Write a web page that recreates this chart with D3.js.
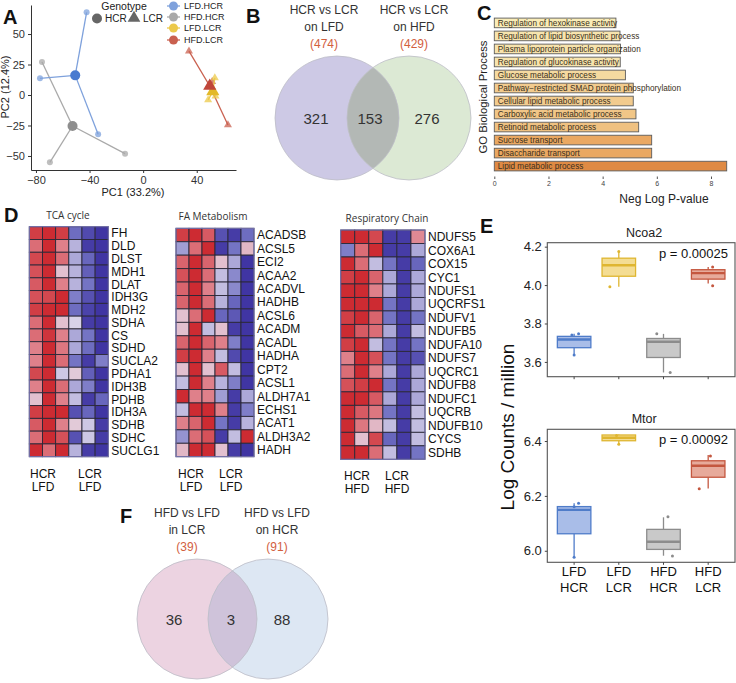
<!DOCTYPE html>
<html><head><meta charset="utf-8">
<script src="https://cdn.jsdelivr.net/npm/d3@7"></script>
<style>body{margin:0;background:#fff}svg{display:block;font-family:"Liberation Sans",Arial,sans-serif}</style>
</head><body><svg id="c" width="736" height="683"></svg>
<script>
// ---------------- DATA ----------------
// Panel A – PCA
const pcaGroups = ["LFD.HCR","HFD.HCR","LFD.LCR","HFD.LCR"];
const pcaColors = ["#7ea1dc","#a9a9a9","#ecc94a","#c9604f"];
const pcaCentroidColors = ["#4a7bd0","#8e8e8e","#e3b928","#c0463a"];
const pcaShapes = ["circle","circle","triangle","triangle"];
const pcaLfdHcr = [[-42.2,67.8],[-77,13.7],[-33.6,-32.2]];
const pcaHfdHcr = [[-75.5,27],[-69.6,-55.2],[-13.5,-48.1]];
const pcaLfdLcr = [[53.5,14],[48.5,-4],[54,-1]];
const pcaHfdLcr = [[34.2,36],[63.3,-24.6],[51.5,11]];
const pcaCentroids = [[-50.7,16.1],[-52.7,-25.4],[52,3],[49.7,7.4]];
const pcaXTicks = [-80,-40,0,40];
const pcaYTicks = [-50,-25,0,25,50];

// Panel B – Venn
const vennBTitles = [["HCR vs LCR","on LFD"],["HCR vs LCR","on HFD"]];
const vennBTotals = [474,429];
const vennBCounts = [321,153,276];

// Panel C – GO
const goTerms = ["Regulation of hexokinase activity","Regulation of lipid biosynthetic process","Plasma lipoprotein particle organization","Regulation of glucokinase activity","Glucose metabolic process","Pathway\u2212restricted SMAD protein phosphorylation","Cellular lipid metabolic process","Carboxylic acid metabolic process","Retinoid metabolic process","Sucrose transport","Disaccharide transport","Lipid metabolic process"];
const goValues = [4.49,4.64,4.66,4.65,4.84,5.13,5.13,5.23,5.33,5.81,5.81,8.58];
const goTicks = [0,2,4,6,8];

// Panel D – heatmaps (scaled expression, -1 blue .. 1 red)
const tcaGenes = ["FH","DLD","DLST","MDH1","DLAT","IDH3G","MDH2","SDHA","CS","SDHD","SUCLA2","PDHA1","IDH3B","PDHB","IDH3A","SDHB","SDHC","SUCLG1"];
const tcaValues = [
[0.85,0.95,0.85,-0.55,-0.8,-0.95],[0.6,0.95,0.5,-0.2,-0.9,-0.95],[0.8,0.95,0.6,-0.25,-0.6,-0.95],
[0.75,0.95,0.15,-0.2,-0.65,-0.95],[0.7,0.95,0.5,-0.2,-0.5,-0.95],[0.75,0.8,0.95,-0.45,-0.75,-0.95],
[0.85,0.95,0.95,-0.55,-0.85,-0.95],[0.6,0.95,0.15,-0.05,-0.9,-0.95],[0.6,0.9,0.5,-0.25,-0.5,-0.95],
[0.5,0.95,0.55,-0.25,-0.55,-0.95],[0.5,0.95,0.6,-0.5,-0.9,-0.45],[0.8,0.95,-0.1,0.1,-0.65,-0.95],
[0.5,0.95,0.6,-0.25,-0.45,-0.95],[0.15,0.95,0.5,-0.15,-0.9,-0.6],[0.85,0.95,0.95,-0.75,-0.6,-0.95],
[0.7,0.95,0.5,0.1,-0.1,-0.9],[0.6,0.95,0.75,-0.75,-0.1,-0.9],[0.95,0.6,0.95,-0.2,-0.9,-0.95]];
const faGenes = ["ACADSB","ACSL5","ECI2","ACAA2","ACADVL","HADHB","ACSL6","ACADM","ACADL","HADHA","CPT2","ACSL1","ALDH7A1","ECHS1","ACAT1","ALDH3A2","HADH"];
const faValues = [
[0.85,0.95,0.7,-0.75,-0.9,-0.55],[-0.3,0.6,0.95,-0.9,-0.5,0.2],[0.65,0.95,0.65,0.15,-0.25,-0.95],
[0.75,0.95,0.6,-0.15,-0.4,-0.95],[0.65,0.95,0.5,-0.15,-0.4,-0.95],[0.65,0.95,0.6,-0.2,-0.6,-0.95],
[0.15,0.6,0.95,-0.6,-0.7,-0.95],[0.15,0.95,-0.15,0.15,-0.9,-0.95],[0.65,0.95,0.65,0.5,-0.45,-0.95],
[0.85,0.95,0.5,-0.15,-0.8,-0.95],[0.15,0.95,0.15,0.7,-0.15,-0.95],[-0.15,0.95,0.5,-0.2,-0.45,-0.95],
[0.95,0.5,0.5,-0.3,-0.9,-0.25],[-0.15,0.95,0.95,0.5,-0.9,-0.45],[0.5,0.65,0.95,-0.5,-0.9,-0.2],
[-0.35,0.6,0.75,-0.9,-0.15,0.95],[0.2,0.95,0.95,0.15,-0.9,-0.95]];
const rcGenes = ["NDUFS5","COX6A1","COX15","CYC1","NDUFS1","UQCRFS1","NDUFV1","NDUFB5","NDUFA10","NDUFS7","UQCRC1","NDUFB8","NDUFC1","UQCRB","NDUFB10","CYCS","SDHB"];
const rcValues = [
[0.95,0.95,0.8,-0.9,-0.9,0.45],[-0.45,0.6,0.95,-0.9,-0.9,-0.25],[0.95,0.6,-0.15,-0.5,-0.9,-0.6],
[0.85,0.95,0.65,-0.25,-0.9,-0.25],[0.95,0.95,0.5,-0.25,-0.9,-0.25],[0.95,0.95,0.95,-0.5,-0.9,-0.25],
[0.85,0.95,0.65,-0.5,-0.9,-0.5],[0.95,0.7,0.6,-0.25,-0.9,-0.15],[0.85,0.95,-0.15,-0.5,-0.9,-0.5],
[0.5,0.95,0.75,-0.5,-0.9,-0.75],[0.6,0.95,0.5,-0.25,-0.9,-0.25],[0.75,0.85,0.95,-0.5,-0.9,-0.25],
[0.95,0.95,0.7,-0.25,-0.9,-0.25],[0.95,0.7,0.55,-0.5,-0.9,-0.15],[0.95,0.55,0.2,-0.15,-0.9,-0.15],
[0.95,0.15,0.8,-0.6,-0.9,-0.15],[0.95,0.95,0.6,-0.15,-0.9,-0.5]];

// Panel E – boxplots  [lowWhisker, q1, median, q3, highWhisker]
const boxLine1 = ["LFD","LFD","HFD","HFD"];
const boxLine2 = ["HCR","LCR","HCR","LCR"];
const boxStroke = ["#4f7cc9","#dfb631","#8c8c8c","#c4573f"];
const boxFill = ["#a9bde8","#f4dd93","#c9c9c9","#e7aa9b"];
const ncoa2Stats = [[3.636,3.674,3.717,3.733,3.746],[3.991,4.046,4.103,4.140,4.175],[3.545,3.623,3.705,3.722,3.746],[4.008,4.031,4.062,4.080,4.094]];
const ncoa2Points = [[3.746,3.636,3.74],[4.175,3.991],[3.746,3.545],[4.094,3.996]];
const ncoa2Jitter = [[0.1,0,-0.05],[0,-0.2],[-0.15,0.15],[0.1,0.1]];
const mtorStats = [[5.976,6.062,6.149,6.161,6.173],[6.388,6.401,6.412,6.422,6.424],[5.982,6.005,6.033,6.078,6.122],[6.227,6.268,6.310,6.328,6.349]];
const mtorPoints = [[6.173,6.16,5.976],[6.42,6.388],[6.124,5.981],[6.345,6.226]];
const mtorJitter = [[0.1,0,0],[-0.05,0],[0.1,0.2],[0.05,-0.2]];
const ncoa2Ticks = [3.6,3.8,4.0,4.2];
const mtorTicks = [6.0,6.2,6.4];

// Panel F – Venn
const vennFTitles = [["HFD vs LFD","in LCR"],["HFD vs LFD","on HCR"]];
const vennFTotals = [39,91];
const vennFCounts = [36,3,88];

// ---------------- DRAW ----------------
const svg = d3.select("#c");
svg.append("rect").attr("width",736).attr("height",683).attr("fill","#fff");
const txt = "#222";
function letter(s,x,y){svg.append("text").attr("x",x).attr("y",y).attr("font-size",20).attr("font-weight","bold").attr("fill","#111").text(s);}

// ===== Panel A =====
letter("A",3,24);
const xA = d3.scaleLinear().domain([-83.7,69.3]).range([31,236]);
const yA = d3.scaleLinear().domain([-61.5,73.8]).range([170,5]);
const gA = svg.append("g");
const axB = gA.append("g").attr("transform","translate(0,170)").call(d3.axisBottom(xA).tickValues(pcaXTicks).tickSize(3).tickSizeOuter(0).tickFormat(d=>d<0?"\u2212"+(-d):d));
const axL = gA.append("g").attr("transform","translate(31,0)").call(d3.axisLeft(yA).tickValues(pcaYTicks).tickSize(3).tickSizeOuter(0).tickFormat(d=>d<0?"\u2212"+(-d):d));
[axB,axL].forEach(a=>{a.select(".domain").attr("stroke","#333");a.selectAll("line").attr("stroke","#333");a.selectAll("text").attr("font-size",11).attr("fill","#333").attr("font-family","Liberation Sans, Arial");});
gA.append("text").attr("x",133).attr("y",196).attr("text-anchor","middle").attr("font-size",11).attr("fill",txt).text("PC1 (33.2%)");
gA.append("text").attr("transform","translate(9,87) rotate(-90)").attr("text-anchor","middle").attr("font-size",11).attr("fill",txt).text("PC2 (12.4%)");
const pcaSets = [pcaLfdHcr,pcaHfdHcr,pcaLfdLcr,pcaHfdLcr];
const triPath = (s)=>d3.symbol().type(d3.symbolTriangle).size(s)();
const drawOrder = [1,0,3,2];
drawOrder.forEach(i=>{
  const c = pcaCentroids[i];
  pcaSets[i].forEach(p=>{
    gA.append("line").attr("x1",xA(c[0])).attr("y1",yA(c[1])).attr("x2",xA(p[0])).attr("y2",yA(p[1])).attr("stroke",pcaColors[i]).attr("stroke-width",1.3);
  });
  pcaSets[i].forEach(p=>{
    if(pcaShapes[i]==="circle") gA.append("circle").attr("cx",xA(p[0])).attr("cy",yA(p[1])).attr("r",3).attr("fill",pcaColors[i]).attr("opacity",0.75);
    else gA.append("path").attr("d",triPath(28)).attr("transform",`translate(${xA(p[0])},${yA(p[1])})`).attr("fill",pcaColors[i]).attr("opacity",0.75);
  });
});
[0,1,2,3].forEach(i=>{
  const c = pcaCentroids[i];
  if(pcaShapes[i]==="circle") gA.append("circle").attr("cx",xA(c[0])).attr("cy",yA(c[1])).attr("r",5).attr("fill",pcaCentroidColors[i]);
  else gA.append("path").attr("d",triPath(75)).attr("transform",`translate(${xA(c[0])},${yA(c[1])})`).attr("fill",pcaCentroidColors[i]);
});
// legends
gA.append("text").attr("x",124).attr("y",10).attr("text-anchor","middle").attr("font-size",10.5).attr("fill",txt).text("Genotype");
gA.append("circle").attr("cx",97).attr("cy",18.5).attr("r",5).attr("fill","#666");
gA.append("text").attr("x",105).attr("y",22).attr("font-size",10).attr("fill",txt).text("HCR");
gA.append("path").attr("d",triPath(70)).attr("transform","translate(134,18)").attr("fill","#666");
gA.append("text").attr("x",143).attr("y",22).attr("font-size",10).attr("fill",txt).text("LCR");
const legY = [6,17,28,40];
const legCol = ["#7ea1dc","#a9a9a9","#ecc94a","#c9604f"];
pcaGroups.forEach((g,i)=>{
  gA.append("line").attr("x1",167).attr("x2",180).attr("y1",legY[i]).attr("y2",legY[i]).attr("stroke",legCol[i]).attr("stroke-width",1.3);
  gA.append("circle").attr("cx",173.5).attr("cy",legY[i]).attr("r",4.5).attr("fill",legCol[i]);
  gA.append("text").attr("x",184).attr("y",legY[i]+3.3).attr("font-size",9).attr("fill",txt).text(g);
});

// ===== Venn helper =====
function venn(cx1,cx2,cy,r,cols,titles,totals,counts,titleX,numX,id){
  const g = svg.append("g");
  g.append("circle").attr("cx",cx1).attr("cy",cy).attr("r",r).attr("fill",cols[0]);
  g.append("circle").attr("cx",cx2).attr("cy",cy).attr("r",r).attr("fill",cols[1]);
  g.append("clipPath").attr("id",id).append("circle").attr("cx",cx1).attr("cy",cy).attr("r",r);
  g.append("circle").attr("cx",cx2).attr("cy",cy).attr("r",r).attr("fill",cols[2]).attr("clip-path",`url(#${id})`);
  [cx1,cx2].forEach(cx=>g.append("circle").attr("cx",cx).attr("cy",cy).attr("r",r).attr("fill","none").attr("stroke","#bdbdc6").attr("stroke-width",0.8));
  titles.forEach((t,i)=>{
    g.append("text").attr("x",titleX[i]).attr("y",cy-r-42).attr("text-anchor","middle").attr("font-size",12).attr("fill","#333").text(t[0]);
    g.append("text").attr("x",titleX[i]).attr("y",cy-r-25).attr("text-anchor","middle").attr("font-size",12).attr("fill","#333").text(t[1]);
    g.append("text").attr("x",titleX[i]).attr("y",cy-r-8).attr("text-anchor","middle").attr("font-size",12).attr("fill","#d2603e").text("("+totals[i]+")");
  });
  counts.forEach((c,i)=>g.append("text").attr("x",numX[i]).attr("y",cy+5.5).attr("text-anchor","middle").attr("font-size",15).attr("fill","#333").text(c));
}
letter("B",246,23);
venn(337,409,118,62,["#cdc9e5","#dce9d4","#b3b8b5"],vennBTitles,vennBTotals,vennBCounts,[324,414],[316,370,427],"clipB");

// ===== Panel C =====
letter("C",477,20);
const xC = d3.scaleLinear().domain([0,8]).range([494.3,711]);
const yC = d3.scaleBand().domain(goTerms).range([16.4,172.6]).paddingInner(0.26).paddingOuter(0.13);
const colC = d3.scaleLinear().domain([4.4,5.8,8.6]).range(["#faf1bd","#eaa862","#df8a44"]);
const gC = svg.append("g");
goTerms.forEach((t,i)=>{
  gC.append("rect").attr("x",xC(0)).attr("y",yC(t)).attr("width",xC(goValues[i])-xC(0)).attr("height",yC.bandwidth()).attr("fill",colC(goValues[i])).attr("stroke","#5c5c5c").attr("stroke-width",0.9);
  gC.append("text").attr("x",xC(0)+3.5).attr("y",yC(t)+yC.bandwidth()/2+2.9).attr("font-size",8.2).attr("fill","#3a3020").text(t);
});
const axC = gC.append("g").attr("transform","translate(0,176.5)").call(d3.axisBottom(xC).tickValues(goTicks).tickSize(2.5).tickSizeOuter(0));
axC.select(".domain").remove();
axC.selectAll("line").attr("stroke","#555");
axC.selectAll("text").attr("font-size",7).attr("fill","#444").attr("dy","0.5em");
gC.append("text").attr("x",664).attr("y",203).attr("text-anchor","middle").attr("font-size",12).attr("fill",txt).text("Neg Log P-value");
gC.append("text").attr("transform","translate(487,97) rotate(-90)").attr("text-anchor","middle").attr("font-size",11.3).attr("fill",txt).text("GO Biological Process");

// ===== Panel D =====
letter("D",4,222);
const heatCol = d3.scaleLinear().domain([-1,-0.5,0,0.5,1]).range(["#3a2e9f","#7474c4","#e3dcec","#df808a","#cb2228"]);
function heat(x0,x1,y0,y1,genes,vals,title,titleX,lab1,lab2,labX){
  const g = svg.append("g");
  const xs = d3.scaleBand().domain(d3.range(6)).range([x0,x1]);
  const ys = d3.scaleBand().domain(genes).range([y0,y1]);
  genes.forEach((gn,r)=>{
    vals[r].forEach((v,c)=>{
      g.append("rect").attr("x",xs(c)).attr("y",ys(gn)).attr("width",xs.bandwidth()).attr("height",ys.bandwidth()).attr("fill",heatCol(v)).attr("stroke","#2b2838").attr("stroke-width",0.9);
    });
    g.append("text").attr("x",x1+3).attr("y",ys(gn)+ys.bandwidth()/2+4.3).attr("font-size",12).attr("fill","#111").text(gn);
  });
  g.append("rect").attr("x",x0).attr("y",y0).attr("width",x1-x0).attr("height",y1-y0).attr("fill","none").attr("stroke","#7b78b8").attr("stroke-width",1);
  g.append("text").attr("x",titleX).attr("y",y0-8).attr("text-anchor","middle").attr("font-size",10).attr("fill","#333").attr("font-family","Open Sans, sans-serif").text(title);
  [0,1].forEach(k=>{
    g.append("text").attr("x",labX[k]).attr("y",y1+21).attr("text-anchor","middle").attr("font-size",12).attr("fill","#111").text(lab1[k]);
    g.append("text").attr("x",labX[k]).attr("y",y1+34).attr("text-anchor","middle").attr("font-size",12).attr("fill","#111").text(lab2[k]);
  });
}
heat(29.3,108.3,226.7,456.7,tcaGenes,tcaValues,"TCA cycle",68,["HCR","LCR"],["LFD","LFD"],[43,90]);
heat(176,254,228.3,456.7,faGenes,faValues,"FA Metabolism",213,["HCR","LCR"],["LFD","LFD"],[191,231]);
heat(340.7,425,230,459.3,rcGenes,rcValues,"Respiratory Chain",387,["HCR","LCR"],["HFD","HFD"],[357,397]);

// ===== Panel E =====
letter("E",480,233);
function boxPanel(top,bottom,dom,ticks,stats,pts,jit,title,pval,showX){
  const x0=547.3,x1=735;
  const xs = d3.scaleLinear().domain([0.4,4.6]).range([x0,x1]);
  const ys = d3.scaleLinear().domain(dom).range([bottom,top]);
  const g = svg.append("g");
  const bw = 0.75*(xs(1)-xs(0));
  stats.forEach((s,i)=>{
    const cx = xs(i+1);
    g.append("line").attr("x1",cx).attr("x2",cx).attr("y1",ys(s[0])).attr("y2",ys(s[1])).attr("stroke",boxStroke[i]).attr("stroke-width",1.3);
    g.append("line").attr("x1",cx).attr("x2",cx).attr("y1",ys(s[3])).attr("y2",ys(s[4])).attr("stroke",boxStroke[i]).attr("stroke-width",1.3);
    g.append("rect").attr("x",cx-bw/2).attr("y",ys(s[3])).attr("width",bw).attr("height",Math.max(ys(s[1])-ys(s[3]),1)).attr("fill",boxFill[i]).attr("stroke",boxStroke[i]).attr("stroke-width",1.3);
    g.append("line").attr("x1",cx-bw/2).attr("x2",cx+bw/2).attr("y1",ys(s[2])).attr("y2",ys(s[2])).attr("stroke",boxStroke[i]).attr("stroke-width",2.4);
    pts[i].forEach((v,k)=>g.append("circle").attr("cx",xs(i+1+jit[i][k])).attr("cy",ys(v)).attr("r",1.5).attr("fill",boxStroke[i]));
  });
  g.append("rect").attr("x",x0).attr("y",top).attr("width",x1-x0).attr("height",bottom-top).attr("fill","none").attr("stroke","#555").attr("stroke-width",1.1);
  const ax = g.append("g").attr("transform",`translate(${x0},0)`).call(d3.axisLeft(ys).tickValues(ticks).tickSize(2.5).tickFormat(d3.format(".1f")));
  ax.select(".domain").remove();
  ax.selectAll("line").attr("stroke","#444");
  ax.selectAll("text").attr("font-size",13).attr("fill","#222").attr("font-family","Liberation Sans, Arial");
  stats.forEach((s,i)=>g.append("line").attr("x1",xs(i+1)).attr("x2",xs(i+1)).attr("y1",bottom).attr("y2",bottom+2.5).attr("stroke","#444"));
  g.append("text").attr("x",(x0+x1)/2+3).attr("y",top-6).attr("text-anchor","middle").attr("font-size",12.5).attr("fill",txt).text(title);
  g.append("text").attr("x",x1-7).attr("y",top+15).attr("text-anchor","end").attr("font-size",13).attr("fill","#111").text(pval);
  if(showX){
    boxLine1.forEach((l,i)=>{
      g.append("text").attr("x",xs(i+1)).attr("y",bottom+14).attr("text-anchor","middle").attr("font-size",13).attr("fill","#111").text(l);
      g.append("text").attr("x",xs(i+1)).attr("y",bottom+30).attr("text-anchor","middle").attr("font-size",13).attr("fill","#111").text(boxLine2[i]);
    });
  }
}
boxPanel(242.7,376.7,[3.523,4.2206],ncoa2Ticks,ncoa2Stats,ncoa2Points,ncoa2Jitter,"Ncoa2","p = 0.00025",false);
boxPanel(429.3,562.3,[5.958,6.4427],mtorTicks,mtorStats,mtorPoints,mtorJitter,"Mtor","p = 0.00092",true);
svg.append("text").attr("transform","translate(514,427) rotate(-90)").attr("text-anchor","middle").attr("font-size",19).attr("fill","#111").text("Log Counts / million");

// ===== Panel F =====
letter("F",120,523);
venn(197,268,619,60,["#ecd3e1","#dde7f3","#cfc3da"],vennFTitles,vennFTotals,vennFCounts,[187,277],[174,231,282],"clipF");
</script></body></html>
